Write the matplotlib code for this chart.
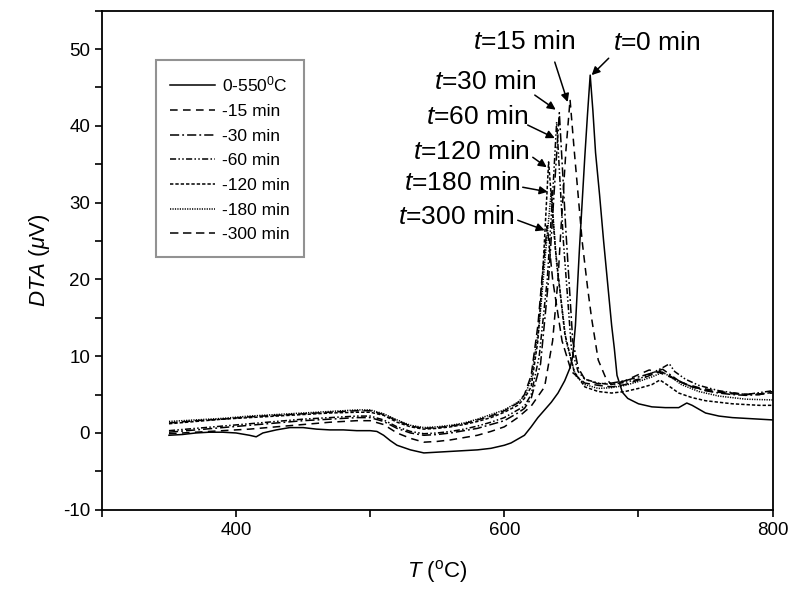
import matplotlib
matplotlib.use('Agg')
import matplotlib.pyplot as plt
from matplotlib.ticker import MultipleLocator

plt.rcParams['font.family'] = ['Liberation Sans', 'DejaVu Sans']
plt.rcParams['mathtext.fontset'] = 'custom'
plt.rcParams['mathtext.rm'] = 'Liberation Sans'
plt.rcParams['mathtext.it'] = 'Liberation Sans:italic'
plt.rcParams['axes.unicode_minus'] = False

# ---- data (T in degC, DTA in uV) ----
t_0 = [350, 360, 370, 380, 390, 400, 410, 415, 420, 430, 440, 450, 460, 470, 480, 490,
       500, 505, 510, 515, 520, 530, 540, 550, 560, 570, 580, 590, 600, 605, 610, 615,
       620, 625, 630, 635, 640, 645, 649, 651, 653, 656, 660, 662, 664, 666, 668, 671,
       674, 677, 680, 682, 684, 688, 692, 700, 710, 720, 730, 736, 740, 745, 750, 760,
       770, 780, 790, 800]
dta_0 = [-0.3, -0.2, 0.0, 0.1, 0.1, 0.0, -0.3, -0.5, 0.0, 0.4, 0.7, 0.7, 0.5, 0.4, 0.4, 0.3,
         0.3, 0.2, -0.3, -1.0, -1.6, -2.2, -2.6, -2.5, -2.4, -2.3, -2.2, -2.0, -1.6, -1.3, -0.8, -0.3,
         0.8, 2.0, 3.0, 4.0, 5.2, 6.8, 8.5, 10.0, 14.0, 24.0, 36.0, 41.5, 46.6, 42.0, 36.5, 31.0,
         25.0, 19.5, 14.0, 11.0, 7.5, 5.3, 4.5, 3.8, 3.4, 3.3, 3.3, 3.9, 3.6, 3.1, 2.6, 2.2,
         2.0, 1.9, 1.8, 1.7]

t_15 = [350, 370, 390, 410, 430, 450, 470, 490, 500, 510, 520, 530, 540, 550, 560, 570,
        580, 590, 600, 610, 620, 630, 636, 640, 642, 646, 649, 652, 655, 658, 662, 665,
        670, 676, 680, 690, 700, 708, 715, 725, 735, 745, 760, 780, 800]
dta_15 = [-0.1, 0.1, 0.3, 0.5, 0.8, 1.1, 1.4, 1.6, 1.6, 1.1, 0.0, -0.7, -1.2, -1.1, -0.9, -0.6,
          -0.3, 0.2, 0.8, 2.0, 3.5, 6.0, 12.0, 20.0, 26.0, 37.0, 43.4, 37.0, 31.0, 25.0, 19.0, 15.0,
          9.5, 7.0, 6.3, 6.8, 7.6, 8.2, 7.9, 7.2, 6.4, 5.9, 5.4, 5.0, 5.2]

t_30 = [350, 370, 390, 410, 430, 450, 470, 490, 500, 510, 520, 530, 540, 550, 560, 570,
        580, 590, 600, 610, 615, 620, 627, 633, 637, 641, 646, 651, 655, 660, 670, 680,
        690, 700, 710, 718, 722, 730, 740, 750, 760, 770, 780, 790, 800]
dta_30 = [0.1, 0.4, 0.7, 1.0, 1.3, 1.6, 1.8, 2.0, 2.0, 1.5, 0.6, 0.0, -0.3, -0.2, 0.0, 0.3,
          0.6, 1.1, 1.6, 2.6, 3.2, 4.5, 9.0, 20.0, 31.0, 41.7, 26.0, 12.0, 8.5, 7.0, 6.4, 6.5,
          6.8, 7.3, 7.8, 8.3, 7.8, 6.8, 6.0, 5.5, 5.2, 5.0, 4.9, 5.0, 5.3]

t_60 = [350, 370, 390, 410, 430, 450, 470, 490, 500, 510, 520, 530, 540, 550, 560, 570,
        580, 590, 600, 610, 615, 620, 626, 632, 636, 639, 644, 650, 655, 660, 670, 680,
        690, 700, 710, 718, 723, 727, 735, 745, 760, 780, 800]
dta_60 = [0.3, 0.6, 0.9, 1.2, 1.5, 1.8, 2.0, 2.2, 2.2, 1.7, 0.8, 0.2, -0.1, 0.0, 0.2, 0.5,
          0.9, 1.4, 2.0, 3.0, 3.5, 5.0, 10.0, 20.0, 31.0, 40.5, 25.0, 11.0, 8.0, 7.0, 6.5, 6.3,
          6.6, 7.0, 7.8, 8.5, 9.0, 8.0, 7.0, 6.2, 5.5, 5.0, 5.5]

t_120 = [350, 370, 390, 410, 430, 450, 470, 490, 500, 510, 520, 530, 540, 550, 560, 570,
         580, 590, 600, 610, 615, 620, 625, 629, 633, 638, 645, 652, 660, 670, 680, 690,
         700, 710, 716, 722, 730, 740, 750, 770, 790, 800]
dta_120 = [1.2, 1.5, 1.8, 2.0, 2.2, 2.4, 2.6, 2.7, 2.7, 2.3, 1.4, 0.8, 0.5, 0.6, 0.8, 1.1,
           1.5, 2.0, 2.7, 3.6, 4.5, 6.0, 12.0, 22.0, 35.3, 24.0, 13.0, 8.0, 6.0, 5.4, 5.2, 5.4,
           5.8, 6.3, 6.9, 6.2, 5.2, 4.6, 4.2, 3.8, 3.6, 3.6]

t_180 = [350, 370, 390, 410, 430, 450, 470, 490, 500, 510, 520, 530, 540, 550, 560, 570,
         580, 590, 600, 610, 615, 620, 626, 631, 635, 639, 646, 653, 660, 670, 680, 690,
         700, 710, 718, 724, 732, 745, 760, 780, 800]
dta_180 = [1.5, 1.7, 1.9, 2.2, 2.4, 2.6, 2.8, 3.0, 3.0, 2.5, 1.7, 1.0, 0.7, 0.8, 1.0, 1.3,
           1.8, 2.4, 3.0, 4.0, 4.8, 7.0, 14.0, 24.0, 31.5, 22.0, 12.0, 7.5, 6.3, 5.8, 5.9, 6.2,
           6.7, 7.3, 7.9, 7.3, 6.3, 5.4, 4.8, 4.4, 4.3]

t_300 = [350, 370, 390, 410, 430, 450, 470, 490, 500, 510, 520, 530, 540, 550, 560, 570,
         580, 590, 600, 610, 615, 620, 625, 628, 632, 636, 643, 650, 660, 670, 680, 690,
         700, 710, 716, 722, 730, 740, 755, 770, 790, 800]
dta_300 = [1.3, 1.6, 1.8, 2.1, 2.3, 2.5, 2.7, 2.9, 2.9, 2.4, 1.6, 0.9, 0.6, 0.7, 0.9, 1.2,
           1.7, 2.2, 2.9, 3.9, 5.0, 7.5, 14.0, 20.0, 27.0, 20.0, 12.0, 8.0, 6.5, 6.2, 6.0, 6.3,
           6.9, 7.6, 8.0, 7.6, 6.7, 6.0, 5.4, 5.1, 5.0, 5.4]

labels = ['0-550$^0$C', '-15 min', '-30 min', '-60 min', '-120 min', '-180 min', '-300 min']
peak_text = ['t=0 min', 't=15 min', 't=30 min', 't=60 min', 't=120 min', 't=180 min', 't=300 min']

series = [(t_0, dta_0, '-'),
          (t_15, dta_15, (0, (5, 3.5))),
          (t_30, dta_30, (0, (6, 2, 1.2, 2))),
          (t_60, dta_60, (0, (4, 1.5, 1, 1.5, 1, 1.5))),
          (t_120, dta_120, (0, (2.2, 1.3))),
          (t_180, dta_180, (0, (0.8, 0.8))),
          (t_300, dta_300, (0, (5.5, 3)))]

fig = plt.figure(figsize=(7.9, 5.9), dpi=100)
ax = fig.add_axes([0.129, 0.136, 0.849, 0.846])

for (x, y, ls), lab in zip(series, labels):
    ax.plot(x, y, color='black', linestyle=ls, lw=1.1, label=lab)

# text + arrow positions (data coords)
txt_pos = [(713.5, 50.8), (615, 50.9), (585.5, 45.7), (579.5, 41.1),
           (575.5, 36.6), (569, 32.6), (564.5, 28.1)]
arr_tail = [(677.8, 48.8), (637.6, 48.3), (622.7, 44.0), (617.4, 40.1),
            (621.2, 35.9), (613.7, 32.0), (610.0, 27.7)]
arr_head = [(665.1, 46.6), (647.2, 43.1), (638.3, 42.1), (637.6, 38.4),
            (631.6, 34.6), (632.3, 31.4), (630.1, 26.4)]

for s, p, a, b in zip(peak_text, txt_pos, arr_tail, arr_head):
    num = s[2:]
    ax.text(p[0], p[1], '$t$=' + num, fontsize=19, ha='center', va='center')
    ax.annotate('', xy=b, xytext=a,
                arrowprops=dict(arrowstyle='-|>', color='black', lw=1.1,
                                mutation_scale=12, shrinkA=0, shrinkB=0))

ax.set_xlim(300, 800)
ax.set_ylim(-10, 55)
ax.xaxis.set_major_locator(MultipleLocator(200))
ax.xaxis.set_minor_locator(MultipleLocator(100))
ax.yaxis.set_major_locator(MultipleLocator(10))
ax.yaxis.set_minor_locator(MultipleLocator(5))
ax.tick_params(which='both', direction='out', length=5, width=1.2, labelsize=13.5,
               top=False, right=False)
for sp in ax.spines.values():
    sp.set_linewidth(1.3)

ax.set_xlabel('$T$ ($^{\\rm o}$C)', fontsize=16, labelpad=14)
ax.set_ylabel('$DTA$ ($\\mu$V)', fontsize=16, labelpad=8)

leg = ax.legend(loc='upper left', bbox_to_anchor=(0.080, 0.902), borderaxespad=0,
                fontsize=12.5, handlelength=2.6, labelspacing=0.55, handletextpad=0.35,
                borderpad=0.85, fancybox=False, frameon=True)
leg.get_frame().set_edgecolor('#777777')
leg.get_frame().set_linewidth(1.5)

plt.savefig('out.png', dpi=100)
